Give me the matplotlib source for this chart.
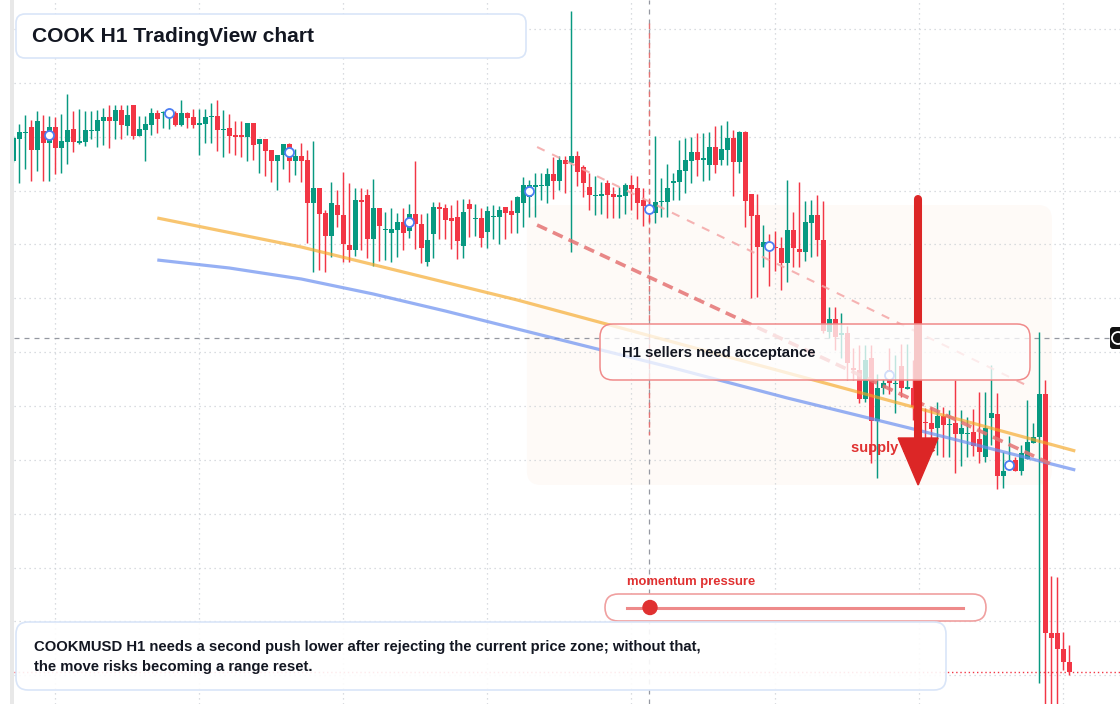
import matplotlib
matplotlib.use("Agg")
import matplotlib.pyplot as plt
import matplotlib.transforms as mtransforms
from matplotlib.patches import FancyBboxPatch, Rectangle, Polygon, Circle
from matplotlib.lines import Line2D
import numpy as np

plt.rcParams["font.family"] = ["Liberation Sans", "DejaVu Sans"]

# ── H1 candles (price in chart points) ─────────────────────────────────────
OPEN = [
    559, 581, 587, 593, 570, 589, 577, 593, 572, 578,
    591, 577, 578, 589, 589, 599, 603, 599, 610, 594,
    615, 584, 590, 595, 607, 607, 605, 607, 595, 607,
    603, 595, 596, 603, 604, 590, 592, 585, 585, 583,
    597, 576, 581, 570, 559, 565, 576, 559, 564, 560,
    517, 532, 507, 484, 515, 505, 475, 470, 520, 525,
    481, 512, 490, 487, 490, 498, 489, 506, 496, 458,
    486, 513, 512, 502, 503, 474, 516, 501, 502, 488,
    503, 503, 513, 509, 507, 517, 523, 533, 534, 534,
    546, 539, 560, 557, 564, 553, 533, 524, 524, 537,
    526, 523, 524, 535, 532, 520, 514, 507, 518, 518,
    537, 538, 549, 559, 568, 560, 555, 573, 560, 570,
    582, 558, 588, 526, 505, 473, 475, 473, 472, 457,
    490, 471, 468, 497, 505, 480, 388, 401, 385, 387,
    352, 350, 321, 362, 299, 332, 350, 336, 354, 331,
    332, 313, 298, 297, 292, 304, 295, 297, 286, 286,
    288, 281, 263, 302, 306, 244, 250, 260, 249, 261,
    277, 283, 326, 87, 87, 71, 58,
]
HIGH = [
    584, 596, 605, 600, 609, 605, 604, 603, 606, 626,
    609, 611, 609, 609, 610, 612, 615, 615, 615, 615,
    615, 604, 604, 612, 610, 609, 610, 609, 620, 608,
    611, 611, 611, 617, 620, 610, 606, 599, 599, 597,
    597, 581, 581, 570, 565, 576, 577, 571, 577, 570,
    579, 532, 510, 538, 530, 548, 537, 532, 532, 531,
    541, 512, 508, 512, 507, 512, 516, 559, 506, 507,
    518, 518, 516, 515, 520, 521, 521, 516, 512, 514,
    515, 514, 513, 520, 524, 543, 540, 547, 547, 552,
    563, 564, 564, 709, 569, 555, 547, 544, 538, 540,
    533, 533, 537, 545, 544, 532, 520, 584, 542, 556,
    547, 580, 582, 583, 587, 587, 588, 594, 595, 599,
    590, 589, 589, 526, 526, 495, 486, 489, 483, 540,
    508, 538, 519, 520, 525, 519, 413, 413, 407, 394,
    372, 375, 375, 375, 346, 341, 372, 365, 376, 376,
    360, 322, 312, 313, 318, 313, 310, 340, 310, 303,
    311, 328, 328, 355, 327, 268, 284, 263, 275, 320,
    297, 388, 340, 144, 143, 88, 75,
]
LOW = [
    558, 537, 551, 539, 549, 539, 539, 546, 547, 556,
    568, 576, 574, 581, 573, 575, 572, 581, 581, 585,
    581, 584, 559, 585, 587, 592, 591, 594, 594, 592,
    592, 565, 577, 577, 569, 563, 567, 565, 563, 559,
    560, 547, 544, 538, 530, 551, 538, 545, 538, 477,
    448, 450, 448, 463, 493, 458, 458, 464, 470, 462,
    454, 459, 460, 458, 463, 470, 482, 471, 457, 454,
    462, 481, 481, 471, 461, 462, 483, 484, 473, 472,
    481, 476, 481, 487, 487, 493, 503, 503, 520, 517,
    521, 530, 527, 468, 534, 523, 510, 505, 506, 502,
    502, 502, 506, 510, 501, 494, 498, 497, 503, 503,
    520, 520, 527, 537, 544, 539, 540, 547, 555, 555,
    524, 547, 493, 422, 423, 453, 434, 449, 430, 438,
    453, 453, 459, 463, 464, 387, 382, 370, 362, 340,
    340, 317, 318, 257, 242, 326, 326, 307, 323, 331,
    300, 290, 263, 270, 265, 263, 263, 247, 254, 263,
    264, 257, 258, 275, 231, 232, 250, 249, 245, 261,
    277, 37, 10, 10, 10, 50, 45,
]
CLOSE = [
    582, 588, 588, 570, 599, 577, 593, 572, 579, 590,
    578, 579, 590, 590, 600, 603, 599, 610, 595, 605,
    584, 591, 596, 607, 601, 608, 607, 595, 607, 602,
    595, 597, 603, 604, 590, 591, 584, 583, 583, 597,
    575, 581, 569, 559, 565, 576, 559, 564, 559, 517,
    532, 506, 484, 517, 505, 476, 470, 520, 518, 481,
    512, 494, 491, 491, 498, 487, 506, 496, 472, 480,
    513, 511, 500, 499, 479, 508, 511, 502, 482, 509,
    504, 510, 507, 505, 523, 535, 535, 535, 535, 546,
    539, 560, 556, 564, 548, 537, 525, 525, 526, 525,
    523, 525, 535, 531, 517, 514, 509, 518, 519, 532,
    539, 550, 560, 568, 560, 562, 573, 555, 571, 582,
    558, 588, 519, 504, 473, 478, 472, 472, 457, 490,
    472, 468, 498, 505, 480, 389, 401, 383, 387, 357,
    350, 321, 360, 299, 332, 337, 337, 337, 332, 333,
    313, 300, 297, 291, 304, 295, 296, 286, 292, 287,
    274, 268, 292, 307, 244, 249, 254, 249, 267, 278,
    283, 326, 87, 82, 71, 58, 48,
]

# pivot markers (bar index, level)
MARK_IDX = [6, 26, 46, 66, 86, 106, 126, 146, 166]
MARK_VAL = [585, 607, 568, 498, 529, 511, 474, 345, 255]

# drawn trend lines (bar index, level)
ORANGE_IDX = [24, 48, 84, 134, 177]
ORANGE_VAL = [502, 473, 420, 339, 269]
BLUE_IDX = [24, 36, 48, 60, 72, 90, 110, 129, 150, 177]
BLUE_VAL = [460, 452, 441, 426, 409, 382, 352, 322, 291, 250]
PINK_IDX = [87.3, 169.1]
PINK_VAL = [573, 334]
RED_IDX = [87.3, 173.3]
RED_VAL = [495, 255]

ZONE = (85.6, 173.1, 235, 515)      # idx0, idx1, low, high
CROSS_IDX, CROSS_VAL = 106, 382
ARROW_IDX, ARROW_TOP, ARROW_BASE, ARROW_TIP = 150.8, 521, 282, 235

GREEN = "#089981"
RED = "#f23645"
INK = "#131722"

W, H = 1120, 704
fig = plt.figure(figsize=(W / 100, H / 100), dpi=100)
fig.patch.set_facecolor("white")
PX = mtransforms.Affine2D().scale(1, -1).translate(0, H)   # pixel -> display

ax = fig.add_axes([14 / W, 0, (W - 14) / W, 1])
ax.set_xlim(0.117, 184.45)
ax.set_ylim(16, 720)
for s in ax.spines.values():
    s.set_visible(False)
ax.set_xticks(6.95 + 24 * np.arange(8))
ax.set_yticks(691 - 53.85 * np.arange(13))
ax.tick_params(length=0, labelleft=False, labelbottom=False)
ax.grid(True, color="#cdd1d6", linestyle=(0, (1, 3)), linewidth=0.9)
ax.set_axisbelow(True)

fig.add_artist(Rectangle((10, 0), 4, H, transform=PX, color="#e8e8e8", lw=0))

# zone background
zx0, zy0 = ax.transData.transform((ZONE[0], ZONE[3]))
zx1, zy1 = ax.transData.transform((ZONE[1], ZONE[2]))
ax.add_patch(FancyBboxPatch((zx0, zy1), zx1 - zx0, zy0 - zy1,
                            boxstyle="round,pad=0,rounding_size=14",
                            transform=mtransforms.IdentityTransform(),
                            facecolor="#fefaf7", edgecolor="none", zorder=0.5))

# candles
o = np.array(OPEN, float)
h = np.array(HIGH, float)
l = np.array(LOW, float)
c = np.array(CLOSE, float)
x = np.arange(len(o))
cols = np.where(c >= o, GREEN, RED)
ax.vlines(x, l, h, colors=cols, linewidth=1.05, zorder=2)
ax.bar(x, np.maximum(np.abs(c - o), 1.5), bottom=np.minimum(o, c), width=0.78,
       color=cols, linewidth=0, zorder=2)

# crosshair + reference lines
ax.plot([0.117, 182.8], [CROSS_VAL, CROSS_VAL], color="#9598a1", lw=0.9,
        ls=(0, (4, 4)), zorder=1)
ax.axvline(CROSS_IDX, color="#9598a1", lw=0.9, ls=(0, (4, 4)), zorder=1)
ax.plot([CROSS_IDX, CROSS_IDX], [697, 285], color="#e57373", lw=1.0,
        ls=(0, (4, 3)), zorder=1.5)
ax.axhline(c[-1], color=RED, lw=1.0, ls=(0, (1, 2)), zorder=1.5)

# trend lines
ax.plot(ORANGE_IDX, ORANGE_VAL, color="#f5a623", alpha=0.65, lw=2.3, zorder=3,
        solid_capstyle="butt")
ax.plot(BLUE_IDX, BLUE_VAL, color="#6a8ff0", alpha=0.7, lw=2.3, zorder=3,
        solid_capstyle="butt")
ax.plot(PINK_IDX, PINK_VAL, color="#f4a6a6", alpha=0.85, lw=1.5,
        ls=(0, (4, 4)), zorder=3)
ax.plot(RED_IDX, RED_VAL, color="#e57373", alpha=0.85, lw=2.6,
        ls=(0, (3, 1.8)), zorder=3)

# pivot markers
ax.plot(MARK_IDX, MARK_VAL, "o", ms=6.5, mfc="white", mec="#4c7ef3", mew=1.3,
        zorder=4)

# supply label + arrow
ax.text(139.6, 272, "supply zone", color="#e03131", fontsize=10.5,
        fontweight="bold", va="center", ha="left", zorder=5)
ax.plot([ARROW_IDX, ARROW_IDX], [ARROW_TOP, ARROW_BASE], color="#dc2626",
        lw=5.8, solid_capstyle="round", zorder=6)
ax.add_patch(Polygon([[ARROW_IDX - 3.33, ARROW_BASE], [ARROW_IDX + 3.33, ARROW_BASE],
                      [ARROW_IDX, ARROW_TIP]], closed=True, color="#dc2626", zorder=6))


def px_box(x0, y0, x1, y1, r, fc, ec, lw=1.0, z=10):
    fig.add_artist(FancyBboxPatch((x0, y0), x1 - x0, y1 - y0,
                                  boxstyle=f"round,pad=0,rounding_size={r}",
                                  transform=PX, facecolor=fc, edgecolor=ec,
                                  linewidth=lw, zorder=z))


# title
px_box(16, 14, 526, 58, 9, "white", "#d9e5f8", lw=1.2)
fig.text(32 / W, 1 - 36 / H, "COOK H1 TradingView chart", fontsize=15.1,
         fontweight="bold", color=INK, va="center", ha="left", zorder=11)

# H1 callout
px_box(600, 324, 1030, 380, 13, (1, 1, 1, 0.75), "#f08a8a", lw=1.1)
fig.text(622 / W, 1 - 353 / H, "H1 sellers need acceptance", fontsize=10.75,
         fontweight="bold", color=INK, va="center", ha="left", zorder=11)

# momentum gauge
fig.text(627 / W, 1 - 582 / H, "momentum pressure", fontsize=9.35,
         fontweight="bold", color="#e03131", va="center", ha="left", zorder=11)
px_box(605, 594, 986, 621, 13.5, "white", "#f0a0a0", lw=1.2)
fig.add_artist(Line2D([627, 963], [607.5, 607.5], transform=PX, color="#ee8a8a",
                      lw=2.2, zorder=12))
fig.add_artist(Circle((650, 607.5), 7, transform=PX, color="#e03131", zorder=13))

# note box
px_box(16, 622, 946, 690, 12, (1, 1, 1, 0.9), "#d9e5f8", lw=1.2)
fig.text(34 / W, 1 - 647 / H,
         "COOKMUSD H1 needs a second push lower after rejecting the current price zone; without that,",
         fontsize=10.75, fontweight="bold", color=INK, va="center", ha="left", zorder=11)
fig.text(34 / W, 1 - 667 / H, "the move risks becoming a range reset.",
         fontsize=10.75, fontweight="bold", color=INK, va="center", ha="left", zorder=11)

# crosshair badge on the price scale
px_box(1110, 327, 1128, 349, 3, "#111111", "none", lw=0)
fig.add_artist(Circle((1118, 338), 6, transform=PX, facecolor="none",
                      edgecolor="white", lw=1.3, zorder=12))

fig.savefig("out.png", dpi=100, facecolor="white")
